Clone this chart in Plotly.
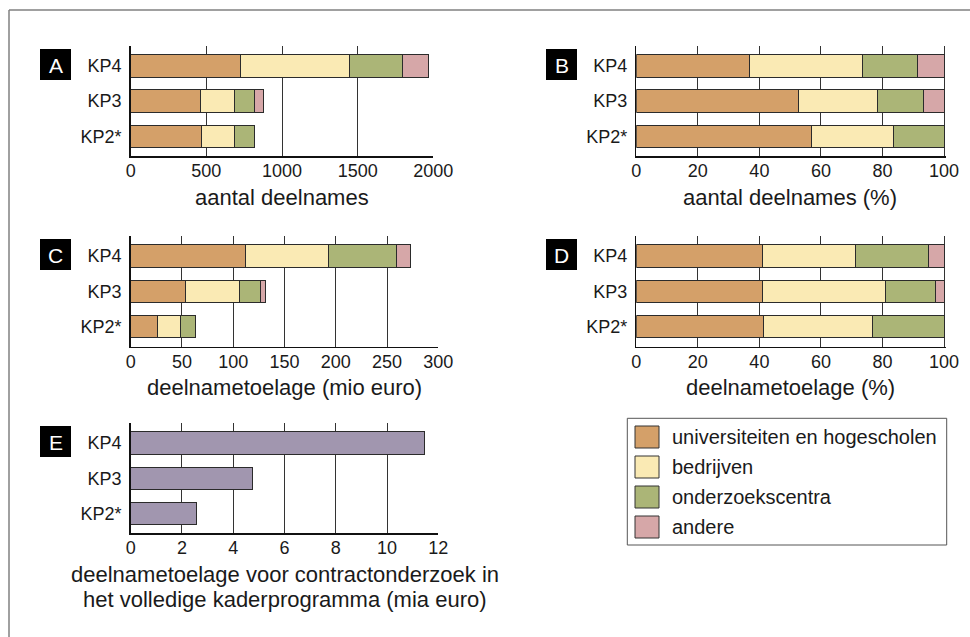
import plotly.graph_objects as go

# ---------------- data ----------------
categories = ["KP2*", "KP3", "KP4"]
sectors = ["universiteiten en hogescholen", "bedrijven", "onderzoekscentra", "andere"]
sector_colors = ["#D4A069", "#FAEAB4", "#ABB577", "#D6A7A8"]

# A: aantal deelnames
a_univ = [469, 463, 727]
a_bedr = [214, 222, 722]
a_onderz = [134, 132, 346]
a_andere = [None, 60, 172]

# B: aantal deelnames (%)
b_univ = [57.1, 52.7, 36.9]
b_bedr = [26.5, 25.6, 36.6]
b_onderz = [16.4, 15.1, 17.8]
b_andere = [None, 6.6, 8.7]

# C: deelnametoelage (mio euro)
c_univ = [26.0, 53.6, 111.5]
c_bedr = [22.1, 52.4, 81.2]
c_onderz = [15.3, 21.0, 66.7]
c_andere = [None, 4.3, 13.9]

# D: deelnametoelage (%)
d_univ = [41.3, 41.0, 41.0]
d_bedr = [35.4, 40.1, 30.1]
d_onderz = [23.3, 16.1, 23.9]
d_andere = [None, 2.8, 5.0]

# E: deelnametoelage voor contractonderzoek (mia euro)
e_totaal = [2.58, 4.74, 11.48]
e_color = "#A196AF"

# ---------------- layout helpers ----------------
W, H = 970, 637
def fx(px):
    return px / W
def fy(py):
    return 1 - py / H

FONT = "Liberation Sans, Arial, sans-serif"
TXT = "#1a1a1a"

# x: pixel span of [0, nominal max]; pad: extra range so edge outlines are not clipped
panels = [
    dict(key="A", ax="", x=(130.7, 433.3), y=(45.7, 156), mx=2000, pad=0, dtick=500,
         title=["aantal deelnames"], data=[a_univ, a_bedr, a_onderz, a_andere], box=(40, 49)),
    dict(key="B", ax="2", x=(636.3, 944), y=(45.7, 156), mx=100, pad=0.5, dtick=20,
         title=["aantal deelnames (%)"], data=[b_univ, b_bedr, b_onderz, b_andere], box=(546, 49)),
    dict(key="C", ax="3", x=(130.7, 438.3), y=(235.7, 346.7), mx=300, pad=0, dtick=50,
         title=["deelnametoelage (mio euro)"], data=[c_univ, c_bedr, c_onderz, c_andere], box=(40, 239)),
    dict(key="D", ax="4", x=(636.3, 944), y=(235.7, 346.7), mx=100, pad=0.5, dtick=20,
         title=["deelnametoelage (%)"], data=[d_univ, d_bedr, d_onderz, d_andere], box=(546, 239)),
    dict(key="E", ax="5", x=(130.7, 438.3), y=(422.7, 533.3), mx=12, pad=0, dtick=2,
         title=["deelnametoelage voor contractonderzoek in",
                "het volledige kaderprogramma (mia euro)"],
         data=None, box=(40, 426)),
]

fig = go.Figure()
shapes = []
annotations = []
layout = {}

BAR_W = 0.635
for p in panels:
    xa = "x" + p["ax"]
    ya = "y" + p["ax"]
    if p["data"] is not None:
        for name, col, vals in zip(sectors, sector_colors, p["data"]):
            fig.add_trace(go.Bar(
                y=categories, x=vals, orientation="h", name=name,
                marker=dict(color=col, line=dict(color="#2b2b2b", width=1)),
                width=BAR_W, xaxis=xa, yaxis=ya, showlegend=False,
            ))
    else:
        fig.add_trace(go.Bar(
            y=categories, x=e_totaal, orientation="h", name="totaal",
            marker=dict(color=e_color, line=dict(color="#2b2b2b", width=1)),
            width=BAR_W, xaxis=xa, yaxis=ya, showlegend=False,
        ))

    x0, x1 = p["x"]
    ppu = (x1 - x0) / p["mx"]
    x1e = x1 + p["pad"] * ppu
    layout["xaxis" + p["ax"]] = dict(
        domain=[fx(x0), fx(x1e)], anchor=ya, range=[0, p["mx"] + p["pad"]],
        dtick=p["dtick"], tick0=0, showgrid=True, gridcolor="#333333", gridwidth=1,
        showline=True, linecolor="#111111", linewidth=1.5, zeroline=False,
        ticks="", ticklabelstandoff=-2,
        tickfont=dict(family=FONT, size=18, color=TXT), fixedrange=True,
        automargin=False,
    )
    layout["yaxis" + p["ax"]] = dict(
        domain=[fy(p["y"][1]), fy(p["y"][0])], anchor=xa, type="category",
        categoryorder="array", categoryarray=categories, range=[-0.564, 2.578],
        showgrid=False, showline=True, linecolor="#111111", linewidth=1.5,
        zeroline=False, ticks="", ticklabelstandoff=4,
        tickfont=dict(family=FONT, size=18, color=TXT), fixedrange=True,
        automargin=False,
    )

    # axis title(s)
    cx = (x0 + x1) / 2
    pitch = 25
    for i, line in enumerate(p["title"]):
        annotations.append(dict(
            text=line, xref="paper", yref="paper", x=fx(cx),
            y=fy(p["y"][1] + 41 + pitch * i),
            xanchor="center", yanchor="middle", showarrow=False,
            font=dict(family=FONT, size=22, color=TXT),
        ))

    # letter box
    bx, by = p["box"]
    shapes.append(dict(type="rect", xref="paper", yref="paper",
                       x0=fx(bx), x1=fx(bx + 31), y0=fy(by + 31), y1=fy(by),
                       fillcolor="#000000", line=dict(width=0)))
    annotations.append(dict(
        text=p["key"], xref="paper", yref="paper", x=fx(bx + 15.5), y=fy(by + 16),
        xanchor="center", yanchor="middle", showarrow=False,
        font=dict(family=FONT, size=21, color="#ffffff"),
    ))

# legend (custom box)
shapes.append(dict(type="rect", xref="paper", yref="paper",
                   x0=fx(627.3), x1=fx(946.7), y0=fy(545), y1=fy(418.3),
                   fillcolor="rgba(0,0,0,0)", line=dict(color="#555555", width=1)))
for i, (name, col) in enumerate(zip(sectors, sector_colors)):
    top = 426 + 30 * i
    shapes.append(dict(type="rect", xref="paper", yref="paper",
                       x0=fx(635), x1=fx(659), y0=fy(top + 22), y1=fy(top),
                       fillcolor=col, line=dict(color="#333333", width=1)))
    annotations.append(dict(
        text=name, xref="paper", yref="paper", x=fx(670), y=fy(top + 11),
        xanchor="left", yanchor="middle", showarrow=False,
        font=dict(family=FONT, size=20, color=TXT),
    ))

# outer frame (left and top edges)
shapes.append(dict(type="line", xref="paper", yref="paper",
                   x0=fx(9), x1=fx(9), y0=0, y1=fy(10), line=dict(color="#808080", width=1.5)))
shapes.append(dict(type="line", xref="paper", yref="paper",
                   x0=fx(9), x1=1, y0=fy(10), y1=fy(10), line=dict(color="#808080", width=1.5)))

fig.update_layout(
    width=W, height=H, margin=dict(l=0, r=0, t=0, b=0, pad=0, autoexpand=False),
    autosize=False,
    paper_bgcolor="#ffffff", plot_bgcolor="rgba(0,0,0,0)",
    barmode="stack", bargap=0.36, showlegend=False,
    shapes=shapes, annotations=annotations,
    font=dict(family=FONT, color=TXT),
    **layout,
)

fig.write_html(
    "out.html",
    config={"displayModeBar": False, "responsive": False, "staticPlot": True},
    post_script="document.body.style.margin='0';document.body.style.padding='0';"
                "document.body.style.overflow='hidden';",
)
